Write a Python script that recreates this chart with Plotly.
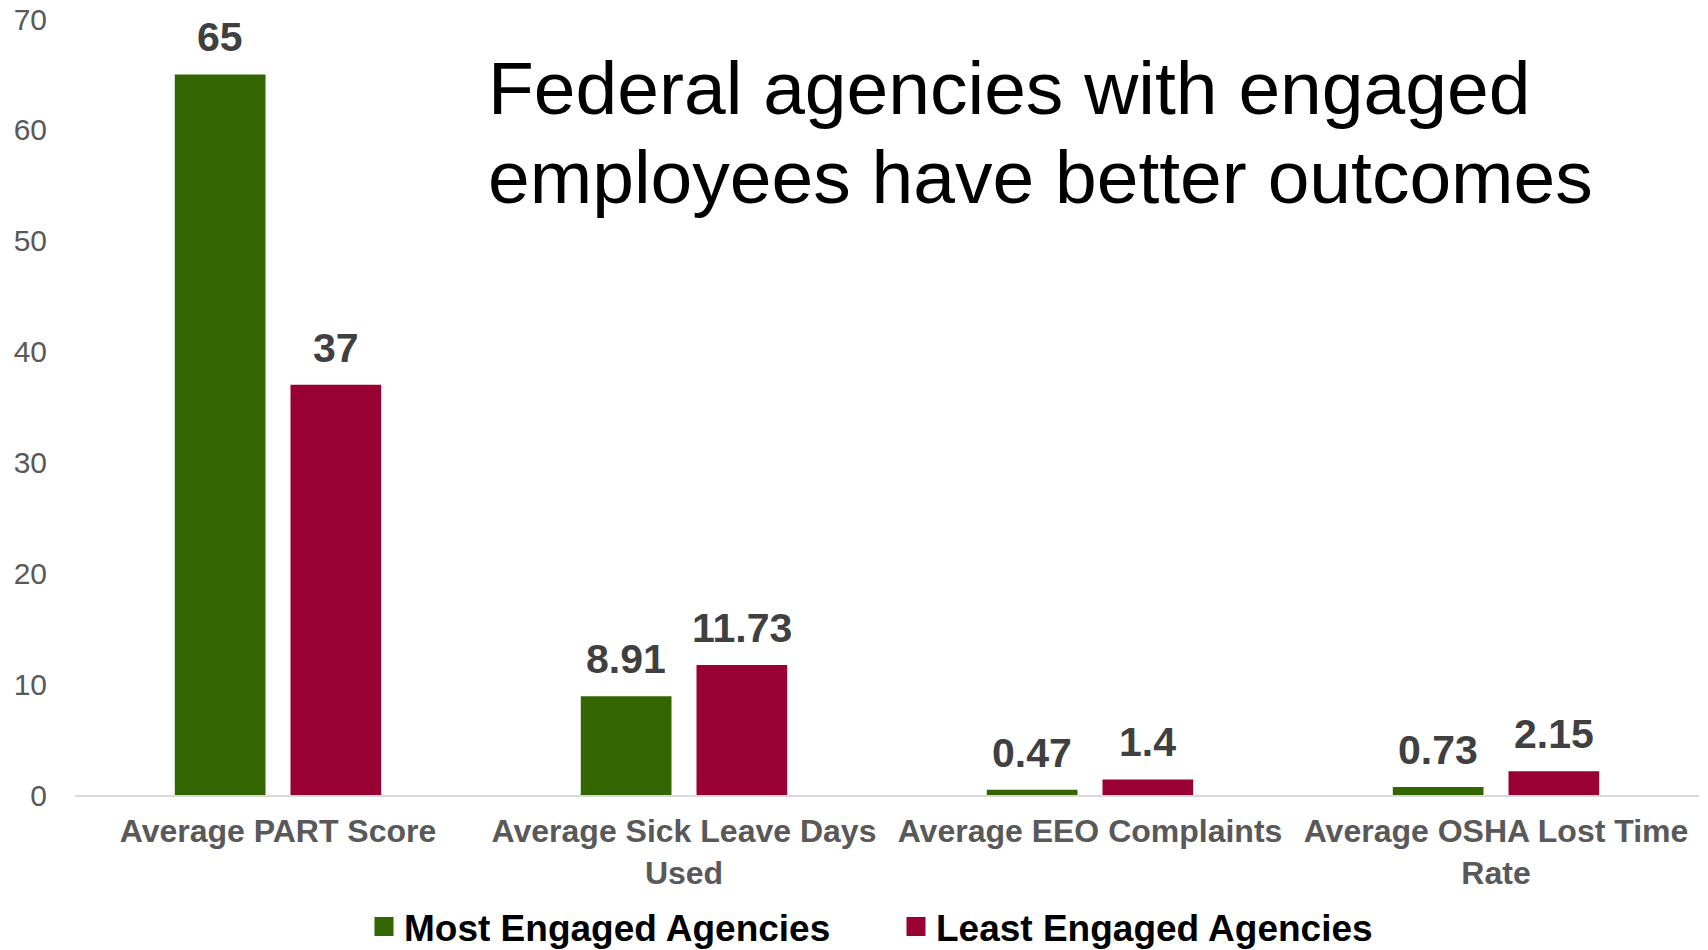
import plotly.graph_objects as go

categories = [
    "Average PART Score",
    "Average Sick Leave Days<br>Used",
    "Average EEO Complaints",
    "Average OSHA Lost Time<br>Rate",
]
most_engaged = [65, 8.91, 0.47, 0.73]
least_engaged = [37, 11.73, 1.4, 2.15]
series_names = ["Most Engaged Agencies", "Least Engaged Agencies"]
y_ticks = [0, 10, 20, 30, 40, 50, 60, 70]
title_lines = ["Federal agencies with engaged", "employees have better outcomes"]

W, H = 1708, 950
ML, MR, MT, MB = 75, 9, 19, 155
PLOT_H = H - MT - MB

GREEN = "#336600"
RED = "#990033"
FONT = "Liberation Sans, Arial, sans-serif"

BARGAP = 0.43
BARGROUPGAP = 0.216


def py(px_from_top):
    """Convert a pixel row to paper y coordinate."""
    return (H - MB - px_from_top) / PLOT_H


x_idx = list(range(len(categories)))

fig = go.Figure()
for name, vals, col in [(series_names[0], most_engaged, GREEN),
                        (series_names[1], least_engaged, RED)]:
    fig.add_trace(go.Bar(
        x=x_idx, y=vals, name=name, showlegend=False,
        marker=dict(color=col, line=dict(width=0)),
        hoverinfo="skip",
    ))

# legend entries with larger square swatches
for name, col in [(series_names[0], GREEN), (series_names[1], RED)]:
    fig.add_trace(go.Scatter(
        x=[None], y=[None], mode="markers", name=name,
        marker=dict(symbol="square", size=16, color=col,
                    line=dict(color=col, width=3)),
        hoverinfo="skip",
    ))

# value labels above each bar
slot = (1 - BARGAP) / 2
annotations = []
for vals, off in [(most_engaged, -slot / 2), (least_engaged, slot / 2)]:
    for i, v in enumerate(vals):
        annotations.append(dict(
            x=i + off, y=v, xref="x", yref="y",
            text=f"{v:g}", showarrow=False,
            xanchor="center", yanchor="bottom", yshift=12,
            font=dict(family=FONT, size=41, color="#404040", weight="bold"),
        ))

# two-line heading inside the plot
for line, base in zip(title_lines, [115, 204]):
    annotations.append(dict(
        x=(486 - ML) / (W - ML - MR), y=py(base - 27),
        xref="paper", yref="paper",
        text=line, showarrow=False,
        xanchor="left", yanchor="middle",
        font=dict(family=FONT, size=75, color="#000000"),
    ))

fig.update_layout(
    width=W, height=H,
    margin=dict(l=ML, r=MR, t=MT, b=MB, autoexpand=False),
    paper_bgcolor="white", plot_bgcolor="white",
    barmode="group", bargap=BARGAP, bargroupgap=BARGROUPGAP,
    showlegend=True,
    legend=dict(
        orientation="h", x=(364 - ML) / (W - ML - MR), xanchor="left",
        y=py(927), yanchor="middle",
        font=dict(family=FONT, size=37, color="#000000", weight="bold"),
        bgcolor="rgba(0,0,0,0)", traceorder="normal",
        itemsizing="trace", entrywidth=487,
    ),
    annotations=annotations,
    xaxis=dict(
        tickmode="array", tickvals=x_idx, ticktext=categories,
        range=[-0.5, len(categories) - 0.5],
        showline=True, linecolor="#d9d9d9", linewidth=1.5,
        showgrid=False, zeroline=False, ticks="",
        tickfont=dict(family=FONT, size=32, color="#595959", weight="bold"),
        ticklabelstandoff=7,
    ),
    yaxis=dict(
        range=[0, 70], tickmode="array", tickvals=y_ticks,
        showline=False, showgrid=False, zeroline=False, ticks="",
        tickfont=dict(family=FONT, size=30, color="#595959"),
        ticklabelstandoff=27,
    ),
)

fig.write_html("out.html")
